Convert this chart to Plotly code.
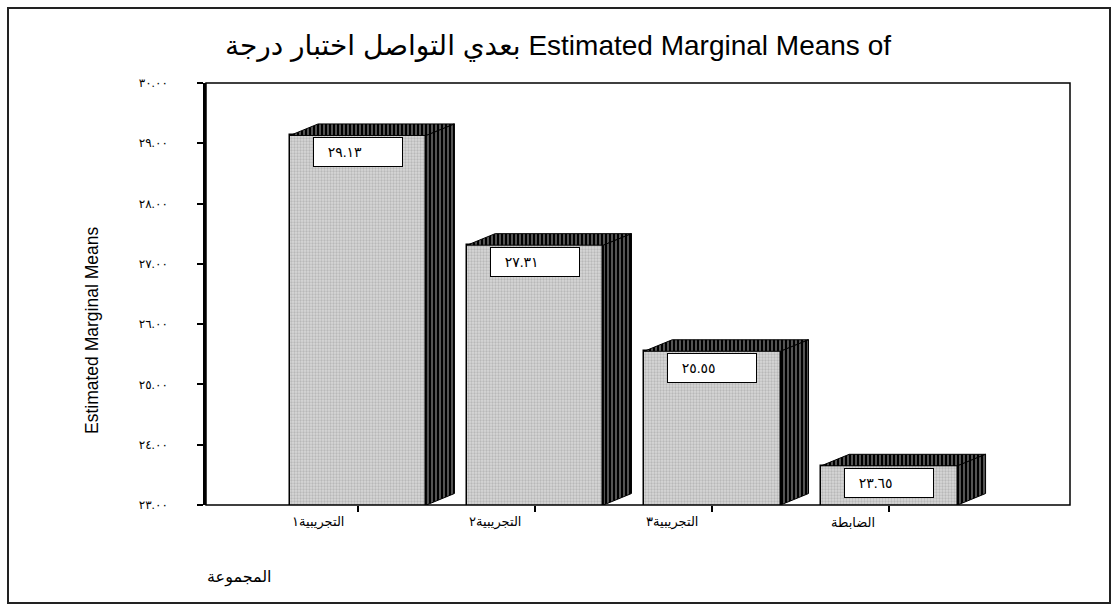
import plotly.graph_objects as go

# Estimated marginal means per group
groups = ["التجريبية١", "التجريبية٢", "التجريبية٣", "الضابطة"]
means = [29.13, 27.31, 25.55, 23.65]
mean_labels = ["٢٩.١٣", "٢٧.٣١", "٢٥.٥٥", "٢٣.٦٥"]

y_ticks = [23, 24, 25, 26, 27, 28, 29, 30]
y_tick_labels = ["٢٣.٠٠", "٢٤.٠٠", "٢٥.٠٠", "٢٦.٠٠", "٢٧.٠٠", "٢٨.٠٠", "٢٩.٠٠", "٣٠.٠٠"]

# words of the variable label are laid out left to right, as in the SPSS output
title_text = "درجة\u200e اختبار\u200e التواصل\u200e بعدي\u200e Estimated Marginal Means of"
y_title = "Estimated Marginal Means"
x_title = "المجموعة"

# layout geometry (pixels)
W, H = 1116, 608
M_L, M_R, M_T, M_B = 206, 46, 83, 103
PW, PH = W - M_L - M_R, H - M_T - M_B

Y_MIN, Y_MAX = 23, 30
X_MIN, X_MAX = -0.86, 4.02
BAR_W = 0.77
# pseudo-3D depth, converted from pixels to data units
DEPTH_PX, RISE_PX = 28, 11.5
dx = DEPTH_PX * (X_MAX - X_MIN) / PW
dy = RISE_PX * (Y_MAX - Y_MIN) / PH

FONT = "Arial, 'Liberation Sans', 'DejaVu Sans', sans-serif"
xs = list(range(len(groups)))

fig = go.Figure()

# front faces
fig.add_trace(go.Bar(
    x=xs, y=means, width=BAR_W,
    marker=dict(
        color="#d2d2d2",
        line=dict(color="black", width=1.5),
        pattern=dict(shape=".", bgcolor="#d8d8d8", fgcolor="#b8b8b8",
                     size=3, solidity=0.45, fillmode="replace"),
    ),
    hoverinfo="skip", showlegend=False,
))

stripe = dict(shape="|", bgcolor="black", fgcolor="#a8a8a8",
              size=4, solidity=0.25, fillmode="replace")

for x, v in zip(xs, means):
    xl, xr = x - BAR_W / 2, x + BAR_W / 2
    # top face
    fig.add_trace(go.Scatter(
        x=[xl, xl + dx, xr + dx, xr, xl],
        y=[v, v + dy, v + dy, v, v],
        mode="lines", fill="toself", fillcolor="black",
        fillpattern=stripe,
        line=dict(color="black", width=1),
        hoverinfo="skip", showlegend=False,
    ))
    # side face
    fig.add_trace(go.Scatter(
        x=[xr, xr, xr + dx, xr + dx, xr],
        y=[Y_MIN, v, v + dy, Y_MIN + dy, Y_MIN],
        mode="lines", fill="toself", fillcolor="black",
        fillpattern=stripe,
        line=dict(color="black", width=1),
        hoverinfo="skip", showlegend=False,
    ))

annotations = []
for x, v, lab in zip(xs, means, mean_labels):
    annotations.append(dict(
        x=x, y=v, xref="x", yref="y", xanchor="center", yanchor="top",
        yshift=-2, text="\u00a0\u00a0\u00a0" + lab, showarrow=False,
        align="left", width=84, height=24, borderpad=2, borderwidth=1,
        bordercolor="black", bgcolor="white",
        font=dict(family=FONT, size=14, color="black"),
    ))

# category labels, right-aligned just left of each tick
for x, g in zip(xs, groups):
    annotations.append(dict(
        x=x, y=0, xref="x", yref="paper", xanchor="right", yanchor="middle",
        xshift=-12, yshift=-17, text=g, showarrow=False,
        font=dict(family=FONT, size=13, color="black"),
    ))

# chart title
annotations.append(dict(
    x=(W / 2 - M_L) / PW, y=(H - 46 - M_B) / PH, xref="paper", yref="paper",
    xanchor="center", yanchor="middle", text=title_text, showarrow=False,
    font=dict(family=FONT, size=28, color="black"),
))
# y axis title
annotations.append(dict(
    x=(92 - M_L) / PW, y=(H - 331 - M_B) / PH, xref="paper", yref="paper",
    xanchor="center", yanchor="middle", text=y_title, textangle=-90,
    showarrow=False, font=dict(family=FONT, size=17.5, color="black"),
))
# x axis title
annotations.append(dict(
    x=(205 - M_L) / PW, y=(H - 577 - M_B) / PH, xref="paper", yref="paper",
    xanchor="left", yanchor="middle", text=x_title,
    showarrow=False, font=dict(family=FONT, size=16, color="black"),
))

shapes = [
    # plot frame
    dict(type="rect", xref="paper", yref="paper", x0=0, x1=1, y0=0, y1=1,
         line=dict(color="black", width=1.5), layer="above"),
    # outer border
    dict(type="rect", xref="paper", yref="paper",
         x0=(8 - M_L) / PW, x1=(1110 - M_L) / PW,
         y0=(H - 603 - M_B) / PH, y1=(H - 8 - M_B) / PH,
         line=dict(color="#222222", width=2)),
]

fig.update_layout(
    width=W, height=H,
    margin=dict(l=M_L, r=M_R, t=M_T, b=M_B),
    paper_bgcolor="white", plot_bgcolor="white",
    annotations=annotations, shapes=shapes,
    bargap=0,
    xaxis=dict(
        range=[X_MIN, X_MAX], tickvals=xs, ticktext=[""] * len(xs),
        ticks="outside", ticklen=6, tickwidth=1.5, tickcolor="black",
        showgrid=False, zeroline=False, showline=False,
        fixedrange=True,
    ),
    yaxis=dict(
        range=[Y_MIN, Y_MAX], tickvals=y_ticks, ticktext=y_tick_labels,
        ticks="outside", ticklen=6, tickwidth=1.5, tickcolor="black",
        showgrid=False, zeroline=False,
        showline=True, linecolor="black", linewidth=2.5,
        ticklabelstandoff=27,
        tickfont=dict(family=FONT, size=12, color="black"),
        fixedrange=True,
    ),
)

fig.write_html("out.html", config={"displayModeBar": False})
